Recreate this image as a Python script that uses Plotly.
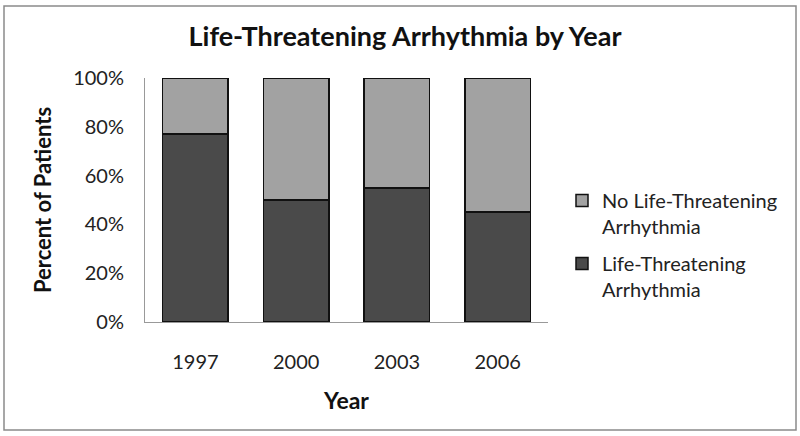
import plotly.graph_objects as go

years = ["1997", "2000", "2003", "2006"]
life_threat = [77, 50, 55, 45]
no_life_threat = [23, 50, 45, 55]
y_ticks = [0, 20, 40, 60, 80, 100]
y_tick_labels = ["0%", "20%", "40%", "60%", "80%", "100%"]

FONT = "Lato, 'Open Sans', sans-serif"
W, H = 800, 436
L, R, T, B = 145, 252, 78, 114

fig = go.Figure()
fig.add_trace(go.Bar(
    x=years, y=life_threat, name="Life-Threatening<br>Arrhythmia",
    legendgroup="a", legendrank=2,
    marker=dict(color="#4a4a4a", line=dict(color="#111111", width=1.5)),
))
fig.add_trace(go.Bar(
    x=years, y=no_life_threat, name="No Life-Threatening<br>Arrhythmia",
    legendgroup="b", legendrank=1,
    marker=dict(color="#a2a2a2", line=dict(color="#111111", width=1.5)),
))

pw, ph = W - L - R, H - T - B
fig.add_shape(type="rect", xref="paper", yref="paper",
              x0=(4 - L) / pw, x1=(796 - L) / pw,
              y0=(H - B - 430) / ph, y1=(H - B - 6) / ph,
              line=dict(color="#8a8a8a", width=1.5), layer="below")

fig.update_layout(
    width=W, height=H,
    margin=dict(l=L, r=R, t=T, b=B, autoexpand=False),
    barmode="stack", bargap=0.35,
    plot_bgcolor="white", paper_bgcolor="white",
    font=dict(family=FONT, color="#222222", size=20),
    title=dict(text="<b>Life-Threatening Arrhythmia by Year</b>",
               x=(405 - 0) / W, xanchor="center", y=1 - 37 / H, yanchor="middle",
               font=dict(size=27, color="#111111")),
    xaxis=dict(showline=True, linecolor="#999999", linewidth=1,
               showgrid=False, ticks="", ticklabelstandoff=22,
               title=dict(text="<b>Year</b>", standoff=20,
                          font=dict(size=23, color="#111111"))),
    yaxis=dict(range=[0, 100], tickvals=y_ticks, ticktext=y_tick_labels,
               showline=True, linecolor="#999999", linewidth=1,
               showgrid=False, ticks="", ticklabelstandoff=16,
               title=dict(text="<b>Percent of Patients</b>", standoff=15,
                          font=dict(size=22, color="#111111"))),
    legend=dict(x=(562 - L) / pw, xanchor="left", y=(H - B - 245) / ph, yanchor="middle",
                traceorder="grouped", valign="top", tracegroupgap=8,
                font=dict(size=20, color="#222222"), itemwidth=30,
                bgcolor="rgba(0,0,0,0)"),
    showlegend=True,
)

fig.write_html("out.html", config={"displayModeBar": False},
               post_script="document.body.style.margin='0';document.body.style.overflow='hidden';")
